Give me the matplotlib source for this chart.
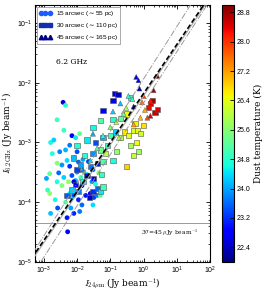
import numpy as np
import matplotlib.pyplot as plt
from matplotlib.lines import Line2D

plt.rcParams['font.family'] = ['Liberation Sans', 'DejaVu Sans']
plt.rcParams['mathtext.fontset'] = 'dejavusans'

# 15 arcsec points: I24, I6.2GHz, Tdust
x15 = [1.3e-3, 1.5e-3, 1.6e-3, 2.2e-3, 2.6e-3, 5.0e-3, 5.2e-3, 4.5e-3, 6e-3, 7e-3,
       8e-3, 1.1e-2, 1.4e-2, 1.8e-2, 2.5e-2, 3.2e-2, 4.0e-2, 5.0e-2, 3.0e-2, 1.2e-2,
       8e-3, 6.5e-3, 3.5e-3, 2.5e-3, 1.2e-3, 1.5e-3, 2.8e-3, 4e-3, 5.5e-3, 7e-3,
       9e-3, 1e-2, 1.3e-2, 1.6e-2, 2e-2, 3e-2, 4.5e-2, 2.5e-3, 3.5e-3, 5e-3,
       6e-3, 8e-3, 1.1e-2, 1.5e-2, 2.2e-2, 1.8e-3, 3e-3, 4.5e-3, 1e-2, 1.6e-3,
       2e-3, 6e-3, 7e-3, 4e-3, 2.5e-3, 3.8e-3, 4.5e-3, 1.2e-2, 9e-3, 8e-3,
       1.4e-2, 2.8e-2, 3.6e-2]
y15 = [1.6e-4, 1.4e-4, 6.5e-5, 1.1e-4, 8e-5, 5.5e-5, 3.2e-5, 1.0e-4, 1.4e-4, 1.2e-4,
       1.3e-4, 1.1e-4, 9e-5, 1.3e-4, 1.4e-4, 1.2e-4, 1.3e-4, 1.3e-4, 9e-5, 7e-5,
       6.5e-5, 8e-5, 1.9e-4, 2.2e-4, 2.5e-4, 3e-4, 3.1e-4, 2.6e-4, 2.2e-4, 2.8e-4,
       2.3e-4, 3.2e-4, 2.6e-4, 3.2e-4, 2.9e-4, 3.5e-4, 3.1e-4, 4.5e-4, 4.2e-4, 5e-4,
       4e-4, 5.5e-4, 4.7e-4, 5.2e-4, 4.8e-4, 6.5e-4, 7e-4, 7.5e-4, 7e-4, 1.0e-3,
       1.1e-3, 9e-4, 1.3e-3, 1.6e-3, 2.4e-3, 4.7e-3, 4.2e-3, 1.4e-3, 1.2e-3, 2.2e-4,
       1.9e-4, 2.2e-4, 2.0e-4]
t15 = [24.9, 25.6, 24.2, 24.6, 23.4, 23.0, 22.9, 25.2, 24.6, 24.8,
       23.5, 23.1, 23.6, 23.0, 22.8, 23.3, 23.8, 25.2, 24.4, 23.7,
       23.1, 24.0, 25.5, 24.7, 24.0, 25.3, 23.6, 24.3, 25.7, 23.4,
       24.1, 23.8, 25.0, 25.8, 24.4, 23.5, 25.6, 25.6, 23.9, 24.4,
       23.2, 24.2, 23.6, 24.0, 23.3, 24.7, 23.8, 24.1, 23.4, 24.6,
       24.3, 23.7, 22.8, 24.9, 25.0, 22.5, 24.8, 25.3, 24.5, 22.6,
       22.7, 23.9, 24.7]

# 30 arcsec points
x30 = [5e-3, 7e-3, 9e-3, 1.1e-2, 1.5e-2, 2.3e-2, 3.0e-2, 4e-2, 5e-2, 2e-2,
       3.2e-2, 5.5e-2, 1e-2, 1.3e-2, 2.5e-2, 4e-2, 6e-2, 8e-3, 1.7e-2, 3e-2,
       5e-2, 7e-2, 1.2e-1, 1.5e-1, 1e-2, 2e-2, 3.5e-2, 6e-2, 8e-2, 1e-1,
       1.4e-1, 2e-1, 2.7e-1, 3.5e-1, 5e-1, 6.5e-1, 8e-1, 5.5e-1, 4e-1, 6e-1,
       1.0, 7e-1, 5e-1, 3e-2, 5e-2, 1.2e-1, 2e-1, 3e-1, 1.3e-1, 1.7e-1,
       1.2e-1, 6e-2, 4e-1, 2.2, 2.6, 1.6, 1.9, 1.4, 3e-1, 6e-2]
y30 = [1.3e-4, 1.6e-4, 2e-4, 1.5e-4, 2.2e-4, 1.2e-4, 1.5e-4, 1.7e-4, 1.5e-4, 2.8e-4,
       2.5e-4, 2.9e-4, 3.5e-4, 4.2e-4, 4e-4, 4.5e-4, 4.8e-4, 5.5e-4, 6e-4, 6.5e-4,
       7.5e-4, 6.5e-4, 5e-4, 7e-4, 9e-4, 1.1e-3, 1.0e-3, 1.2e-3, 9e-4, 1.3e-3,
       1.5e-3, 1.2e-3, 1.5e-3, 1.3e-3, 1.6e-3, 1.6e-3, 1.4e-3, 2.1e-3, 9e-4, 1.0e-3,
       1.9e-3, 7e-4, 6e-4, 1.8e-3, 2.3e-3, 2.4e-3, 2.5e-3, 3e-3, 6.6e-3, 6.4e-3,
       5e-3, 3.4e-3, 5.7e-3, 3.2e-3, 3.6e-3, 4.5e-3, 5.0e-3, 3.8e-3, 4e-4, 1.8e-4]
t30 = [23.5, 24.3, 22.9, 23.8, 24.6, 22.5, 23.2, 23.6, 24.5, 23.0,
       22.8, 24.9, 23.3, 24.0, 23.7, 23.1, 25.1, 24.2, 24.8, 23.9,
       25.4, 26.0, 24.7, 25.7, 24.8, 24.5, 23.4, 24.1, 24.9, 25.0,
       24.3, 26.0, 26.6, 26.4, 26.3, 26.5, 26.2, 26.6, 25.9, 26.5,
       26.7, 25.8, 26.1, 24.6, 25.1, 24.8, 25.3, 26.5, 22.6, 22.4,
       22.7, 22.8, 24.9, 28.6, 28.4, 28.5, 28.8, 28.3, 26.8, 25.0]

# 45 arcsec points
x45 = [0.6, 0.7, 0.75, 2.6, 2.0, 1.6, 0.9, 0.46, 0.5, 0.3,
       0.25, 0.35, 0.2, 1.1, 1.3, 1.6, 0.8, 0.15, 0.1, 0.12,
       6e-2, 4e-2, 0.18, 2.5e-2, 1.5e-2, 3e-2, 0.5, 1.0]
y45 = [1.25e-2, 1.1e-2, 8e-3, 1.3e-2, 7.5e-3, 5e-3, 4.7e-3, 5.3e-3, 4e-3, 3.8e-3,
       3e-3, 6e-3, 4.5e-3, 3.5e-3, 2.6e-3, 2.8e-3, 2.6e-3, 2.2e-3, 1.8e-3, 3.3e-3,
       1.3e-3, 8e-4, 1.2e-3, 5e-4, 3.5e-4, 1.4e-3, 2e-3, 6e-3]
t45 = [22.5, 22.7, 22.4, 28.9, 28.7, 28.2, 27.5, 25.0, 22.9, 25.9,
       25.3, 24.6, 24.2, 27.1, 27.8, 28.4, 27.0, 26.2, 25.6, 24.3,
       24.8, 25.2, 25.9, 24.4, 23.8, 24.1, 27.2, 27.9]

legend_labels = [r'15 arcsec ($\sim$55 pc)', r'30 arcsec ($\sim$110 pc)', r'45 arcsec ($\sim$165 pc)']

# fitted relations: log I6 = a + b*log I24
fit_main = (-2.18, 0.82)
fit_hi = (-1.935, 0.876)
fit_lo = (-2.34, 0.86)
sigma3 = 4.5e-5

fig = plt.figure(figsize=(2.75, 2.95), dpi=100)
ax = fig.add_axes([0.127, 0.112, 0.637, 0.871])
cax = fig.add_axes([0.807, 0.112, 0.044, 0.871])

cmap = plt.get_cmap('jet')
kw = dict(cmap=cmap, vmin=22.0, vmax=29.0, zorder=3)
sc = ax.scatter(x15, y15, c=t15, marker='o', s=12, edgecolors='none', **kw)
ax.scatter(x30, y30, c=t30, marker='s', s=14, edgecolors='#555555', linewidths=0.4, **kw)
ax.scatter(x45, y45, c=t45, marker='^', s=13, edgecolors='#555555', linewidths=0.3, **kw)

xx = np.logspace(-4, 3, 50)
ax.plot(xx, 10**(fit_hi[0] + fit_hi[1]*np.log10(xx)), color='#999999', lw=0.7, ls='-.', zorder=4)
ax.plot(xx, 10**(fit_lo[0] + fit_lo[1]*np.log10(xx)), color='#999999', lw=0.7, ls='-.', zorder=4)
ax.plot(xx, 10**(fit_main[0] - 0.04 + fit_main[1]*np.log10(xx)), color='#aaaaaa', lw=0.8, zorder=4)
ax.plot(xx, 10**(fit_main[0] + fit_main[1]*np.log10(xx)), color='black', lw=1.2, ls=(0, (3, 1.5)), zorder=5)
ax.axhline(sigma3, color='#999999', lw=0.7, zorder=2)

ax.set_xscale('log')
ax.set_yscale('log')
ax.set_xlim(5.4e-4, 100)
ax.set_ylim(1e-5, 0.2)
ax.tick_params(which='both', direction='in', top=True, right=True, labelsize=5, pad=2)
ax.tick_params(which='major', length=3, width=0.6)
ax.tick_params(which='minor', length=1.6, width=0.5)
for s in ax.spines.values():
    s.set_linewidth(0.8)

ax.set_xlabel(r'$I_{\rm 24\mu m}$ (Jy beam$^{-1}$)', fontsize=6.5, family='DejaVu Serif',
              math_fontfamily='cm', labelpad=1)
ax.set_ylabel(r'$I_{\rm 6.2GHz}$ (Jy beam$^{-1}$)', fontsize=6.5, family='DejaVu Serif',
              math_fontfamily='cm', labelpad=1)
ax.text(0.21, 0.778, '6.2 GHz', transform=ax.transAxes, ha='center', va='center',
        fontsize=5.5, family='DejaVu Serif')
ax.text(0.93, 0.115, r'3$\sigma$=45 $\mu$Jy beam$^{-1}$', transform=ax.transAxes,
        ha='right', va='center', fontsize=4.3, family='DejaVu Serif', math_fontfamily='cm')

handles = [Line2D([], [], ls='none', marker='o', color='#1c5cff', markersize=3),
           Line2D([], [], ls='none', marker='s', color='#1030b0', markersize=3.2),
           Line2D([], [], ls='none', marker='^', color='#00008b', markersize=3.2)]
leg = ax.legend(handles, legend_labels, loc='upper left', fontsize=4.6, numpoints=3,
                handlelength=2.0, handletextpad=0.6, borderpad=0.4, labelspacing=0.45,
                borderaxespad=0.25, fancybox=False, framealpha=1, edgecolor='#888888')
leg.get_frame().set_linewidth(0.5)

cb = fig.colorbar(sc, cax=cax, ticks=[22.4, 23.2, 24.0, 24.8, 25.6, 26.4, 27.2, 28.0, 28.8])
cb.ax.tick_params(direction='in', labelsize=5, length=3, width=0.6, pad=2)
cb.outline.set_linewidth(0.8)
cb.set_label('Dust temperature (K)', fontsize=6.5, family='DejaVu Serif', labelpad=2)

fig.savefig('out.png', dpi=100)
